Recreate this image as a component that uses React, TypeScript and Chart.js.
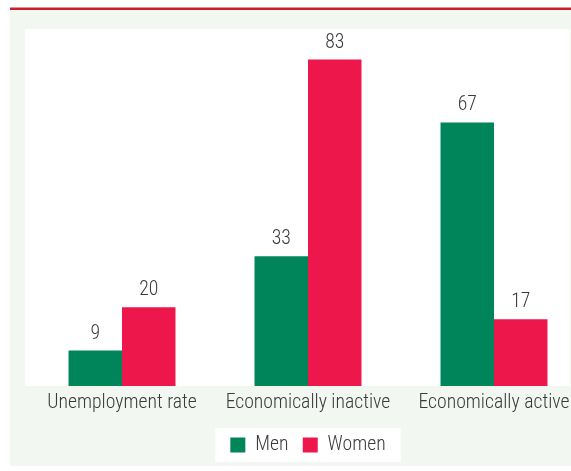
import React, { useEffect, useRef } from "react";
import { Chart, registerables } from "chart.js";

Chart.register(...registerables);

const categories = ["Unemployment rate", "Economically inactive", "Economically active"];
const seriesNames = ["Men", "Women"];
const menValues = [9, 33, 67];
const womenValues = [20, 83, 17];
const yMin = 0;
const yMax = 90;

const GREEN = "#00845A";
const RED = "#ED174C";
const PANEL = "#F2F7F2";
const TOPLINE = "#C8202E";
const TEXT = "#3a3a3a";
const FONT_FAMILY = "'Roboto Condensed', 'Liberation Sans', sans-serif";
const FONT_SIZE = 19.7;
const FONT_WEIGHT = 300;

const backgroundPlugin = {
  id: "panelBackground",
  beforeDraw(chart: any) {
    const ctx = chart.ctx;
    const area = chart.chartArea;
    ctx.save();
    ctx.fillStyle = PANEL;
    ctx.fillRect(0, 10, 561, 461);
    ctx.fillStyle = TOPLINE;
    ctx.fillRect(0, 7.5, 600, 2.5);
    ctx.fillStyle = "#ffffff";
    ctx.fillRect(15, 29, 545, area.bottom - 29);
    const boxes = chart.legend && chart.legend.legendHitBoxes;
    if (boxes && boxes.length) {
      let l = Infinity, r = -Infinity;
      for (const h of boxes) {
        l = Math.min(l, h.left);
        r = Math.max(r, h.left + h.width);
      }
      ctx.fillRect(l - 15, 428, r - l + 30, 34);
    }
    ctx.restore();
  },
};

const valueLabelPlugin = {
  id: "valueLabels",
  afterDatasetsDraw(chart: any) {
    const ctx = chart.ctx;
    ctx.save();
    ctx.font = `${FONT_WEIGHT} ${FONT_SIZE}px ${FONT_FAMILY}`;
    ctx.fillStyle = TEXT;
    ctx.textAlign = "center";
    ctx.textBaseline = "alphabetic";
    chart.data.datasets.forEach((ds: any, di: number) => {
      const meta = chart.getDatasetMeta(di);
      meta.data.forEach((bar: any, i: number) => {
        ctx.fillText(String(ds.data[i]), bar.x, bar.y - 12);
      });
    });
    ctx.restore();
  },
};

export default function App() {
  const canvasRef = useRef<HTMLCanvasElement | null>(null);

  useEffect(() => {
    if (!canvasRef.current) return;
    const chart = new Chart(canvasRef.current, {
      type: "bar",
      data: {
        labels: categories,
        datasets: [
          { label: seriesNames[0], data: menValues, backgroundColor: GREEN, borderWidth: 0 },
          { label: seriesNames[1], data: womenValues, backgroundColor: RED, borderWidth: 0 },
        ],
      },
      options: {
        animation: false,
        responsive: false,
        devicePixelRatio: 1,
        layout: { padding: { top: 32, left: 19, right: 19, bottom: 1.15 } },
        datasets: { bar: { categoryPercentage: 0.575, barPercentage: 1 } },
        scales: {
          x: {
            grid: { display: false, drawTicks: false },
            border: { display: false },
            ticks: {
              padding: 5.58,
              color: TEXT,
              font: { family: FONT_FAMILY, size: FONT_SIZE, weight: FONT_WEIGHT },
              maxRotation: 0,
              autoSkip: false,
            },
          },
          y: { display: false, min: yMin, max: yMax },
        },
        plugins: {
          tooltip: { enabled: false },
          legend: {
            position: "bottom",
            labels: {
              boxWidth: 15,
              boxHeight: 15,
              padding: 14.35,
              color: TEXT,
              font: { family: FONT_FAMILY, size: FONT_SIZE, weight: FONT_WEIGHT },
            },
          },
        },
      },
      plugins: [backgroundPlugin, valueLabelPlugin],
    });
    return () => chart.destroy();
  }, []);

  return (
    <div style={{ position: "fixed", left: 0, top: 0, width: 571, height: 471, overflow: "hidden", background: "#ffffff" }}>
      <canvas ref={canvasRef} width={596} height={466} style={{ position: "absolute", left: 10, top: 0, width: 596, height: 466 }} />
    </div>
  );
}
